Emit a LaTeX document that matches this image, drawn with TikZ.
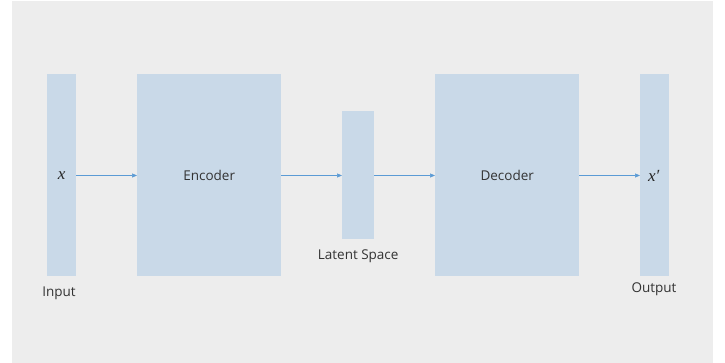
\documentclass[tikz,border=0pt]{standalone}
\usepackage{fontspec}
\setmainfont{Open Sans}
\newfontfamily\xfont{Liberation Serif}
\usetikzlibrary{arrows.meta}
\definecolor{bg}{HTML}{EDEDED}
\definecolor{boxc}{HTML}{C9D9E8}
\definecolor{arr}{HTML}{5B9BD5}
\definecolor{txt}{HTML}{333333}
\begin{document}
\begin{tikzpicture}[x=1pt,y=1pt,
  blk/.style={fill=boxc,draw=none,inner sep=0pt},
  lbl/.style={text=txt,font=\fontsize{13.5}{16}\selectfont,inner sep=0pt},
  mth/.style={text=black!85,font=\xfont\itshape\fontsize{17}{20}\selectfont,inner sep=0pt},
  con/.style={draw=arr,line width=0.6pt,-{Triangle[length=5pt,width=4pt]}}]
\useasboundingbox (0,0) rectangle (725,363);
\fill[bg] (12,0) rectangle (713,362);
\node[blk,minimum width=29pt,minimum height=202pt,anchor=south west] (in) at (47,87) {};
\node[blk,minimum width=144pt,minimum height=202pt,anchor=south west] (enc) at (137,87) {};
\node[blk,minimum width=32pt,minimum height=128pt,anchor=south west] (lat) at (342,124) {};
\node[blk,minimum width=144pt,minimum height=202pt,anchor=south west] (dec) at (435,87) {};
\node[blk,minimum width=29pt,minimum height=202pt,anchor=south west] (out) at (640,87) {};
\coordinate (ay) at (0,187.5);
\node[mth] at (in.center |- ay) {x};
\node[lbl] at (enc.center |- ay) {Encoder};
\node[lbl] at (dec.center |- ay) {Decoder};
\node[mth] at ([xshift=-1pt]out.center |- ay) {x′};
\node[lbl,anchor=north] at (59,76) {Input};
\node[lbl,anchor=north] at (lat.south) [yshift=-11pt] {Latent Space};
\node[lbl,anchor=north] at (654,80) {Output};
\draw[con] (in.east |- ay) -- (enc.west |- ay);
\draw[con] (enc.east |- ay) -- (lat.west |- ay);
\draw[con] (lat.east |- ay) -- (dec.west |- ay);
\draw[con] (dec.east |- ay) -- (out.west |- ay);
\end{tikzpicture}
\end{document}
